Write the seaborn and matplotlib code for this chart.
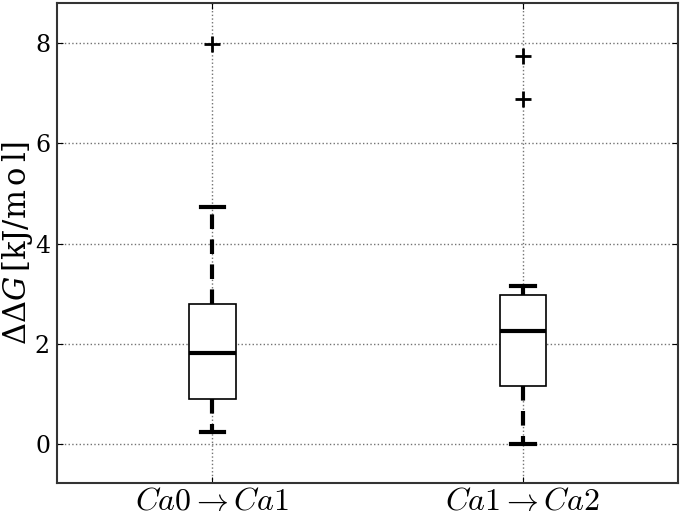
import pandas as pd
import matplotlib
matplotlib.use('Agg')
import matplotlib.pyplot as plt
import seaborn as sns

# Transition labels for the two groups
transitions = [r'$Ca0 \rightarrow Ca1$', r'$Ca1 \rightarrow Ca2$']

# Samples (estimated so the box statistics match the figure)
ddg_ca0_ca1 = [0.23, 0.50, 0.75, 0.90, 1.20, 1.50, 1.82, 2.10, 2.50, 2.79, 3.50, 4.72, 7.98]
ddg_ca1_ca2 = [0.00, 0.50, 0.90, 1.16, 1.50, 1.90, 2.26, 2.50, 2.80, 2.97, 3.15, 6.88, 7.75]

df = pd.DataFrame({
    'Transition': [transitions[0]] * len(ddg_ca0_ca1) + [transitions[1]] * len(ddg_ca1_ca2),
    'ddG': ddg_ca0_ca1 + ddg_ca1_ca2,
})

plt.rcParams['font.family'] = ['DejaVu Serif']
plt.rcParams['mathtext.fontset'] = 'dejavuserif'

fig = plt.figure(figsize=(6.81, 5.18), dpi=100)
ax = fig.add_axes([0.0837, 0.0676, 0.9121, 0.9264])

# Box plot in the old matplotlib look
sns.boxplot(data=df, x='Transition', y='ddG', order=transitions, ax=ax,
            width=0.15, color='white', linecolor='black', linewidth=1.2,
            whis=1.5,
            boxprops=dict(facecolor='white', edgecolor='black', linewidth=1.2),
            whiskerprops=dict(color='black', linestyle=(0, (3.5, 2.5)), linewidth=3),
            capprops=dict(color='black', linewidth=3),
            medianprops=dict(color='black', linewidth=3),
            flierprops=dict(marker='+', markersize=11, markeredgewidth=2,
                            markeredgecolor='black', markerfacecolor='none'))

ax.set_xlim(-0.5, 1.5)
ax.set_ylim(-0.78, 8.8)
ax.set_yticks([0, 2, 4, 6, 8])
ax.set_xlabel('')
ax.set_ylabel(r'$\Delta\Delta G\,[\mathrm{k J / m\,o\,l}]$', fontsize=22, labelpad=0)

# Tick labels
ax.tick_params(axis='y', labelsize=17, direction='in', right=True, length=4, pad=5)
ax.tick_params(axis='x', labelsize=23, direction='in', top=True, length=4, pad=2)
for lbl in ax.get_xticklabels():
    lbl.set_math_fontfamily('cm')

# Dotted grid
ax.grid(True, linestyle=':', color='0.45', linewidth=1)
ax.set_axisbelow(True)
for s in ax.spines.values():
    s.set_linewidth(1.5)
    s.set_color('0.2')

plt.savefig('out.png', dpi=100)
